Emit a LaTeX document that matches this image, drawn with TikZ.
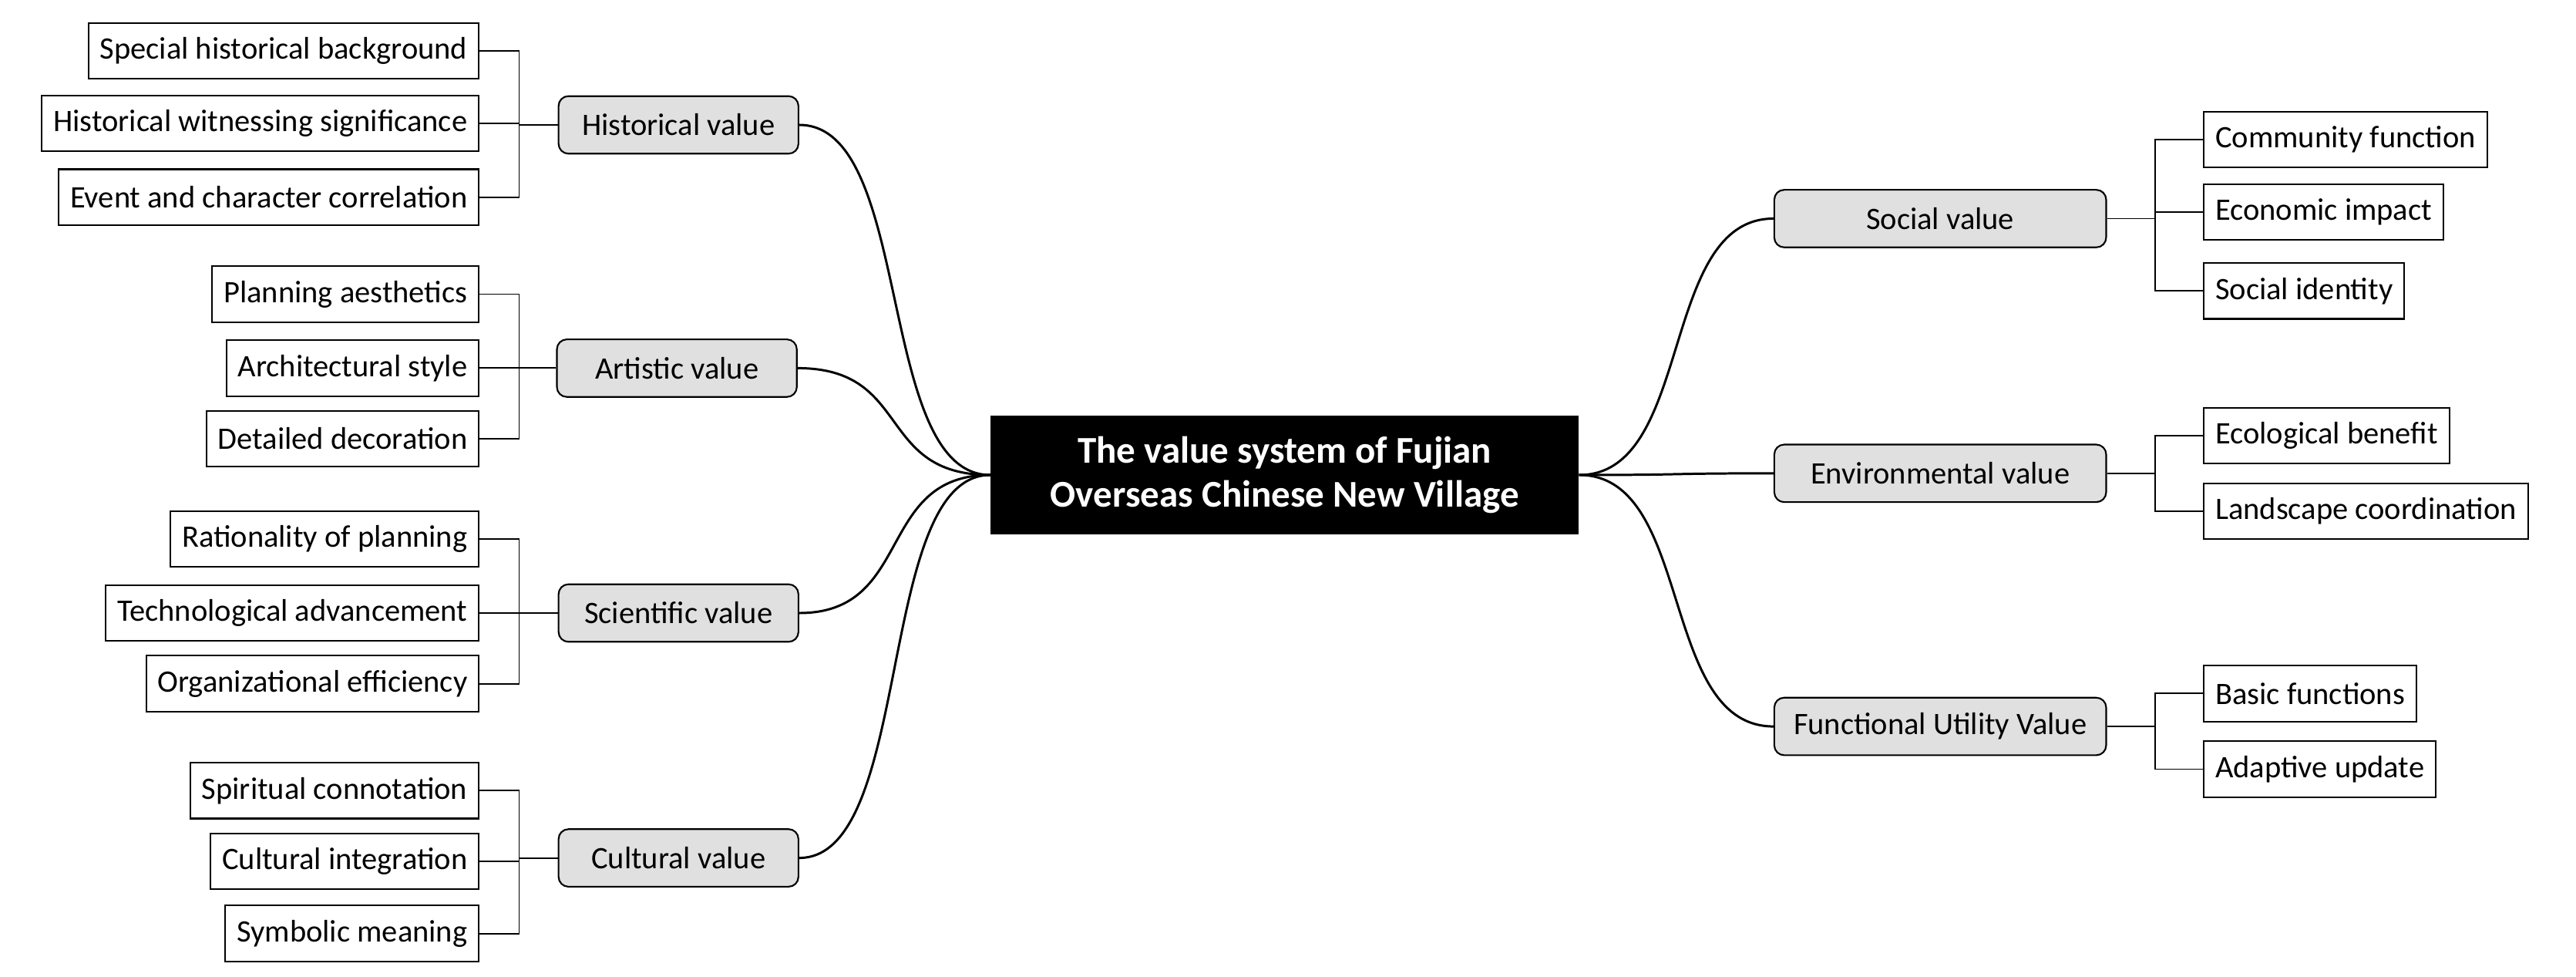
\documentclass[tikz,border=0pt]{standalone}
\usepackage{fontspec}
\setmainfont{Carlito}
\begin{document}
\begin{tikzpicture}[x=1pt,y=-1pt,
 leaf/.style={draw,line width=1pt,fill=white,minimum height=34pt,inner xsep=7pt,font=\fontsize{19}{22}\selectfont},
 mid/.style={draw,line width=1pt,fill=black!12,rounded corners=6pt,minimum height=35pt,minimum width=146pt,font=\fontsize{19}{22}\selectfont},
 midr/.style={mid,minimum width=202pt},
 br/.style={line width=0.9pt},
 cv/.style={line width=1.4pt}]
\useasboundingbox (0,0) rectangle (1568,594);
\node[fill=black,text=white,minimum width=358pt,minimum height=72pt,align=center,font=\fontsize{23}{27}\selectfont\bfseries] (c) at (782,289) {The value system of Fujian\\Overseas Chinese New Village};
% left mids
\node[mid] (h) at (413,76) {Historical value};
\node[mid] (a) at (412,224) {Artistic value};
\node[mid] (s) at (413,373) {Scientific value};
\node[mid] (u) at (413,522) {Cultural value};
% right mids
\node[midr] (so) at (1181,133) {Social value};
\node[midr] (en) at (1181,288) {Environmental value};
\node[midr] (fu) at (1181,442) {Functional Utility Value};
% curves
\foreach \n in {h,a,s,u}{\draw[cv] (c.west) .. controls +(-70,0) and +(70,0) .. (\n.east);}
\foreach \n in {so,en,fu}{\draw[cv] (c.east) .. controls +(70,0) and +(-70,0) .. (\n.west);}
% left leaves
\foreach \nm/\y/\t [count=\i] in {
 h/31/Special historical background, h/75/Historical witnessing significance, h/120/Event and character correlation,
 a/179/Planning aesthetics, a/224/Architectural style, a/267/Detailed decoration,
 s/328/Rationality of planning, s/373/Technological advancement, s/416/Organizational efficiency,
 u/481/Spiritual connotation, u/524/Cultural integration, u/568/Symbolic meaning}{
 \node[leaf,anchor=east] (l\i) at (292,\y) {\t};
 \coordinate (b\i) at (316,\y);
 \draw[br] (l\i.east) -- (b\i) |- (\nm.west);
}
% right leaves
\foreach \nm/\y/\t [count=\i] in {
 so/85/Community function, so/129/Economic impact, so/177/Social identity,
 en/265/Ecological benefit, en/311/Landscape coordination,
 fu/422/Basic functions, fu/468/Adaptive update}{
 \node[leaf,anchor=west] (r\i) at (1341,\y) {\t};
 \coordinate (rb\i) at (1312,\y);
 \draw[br] (r\i.west) -- (rb\i) |- (\nm.east);
}
\end{tikzpicture}
\end{document}
